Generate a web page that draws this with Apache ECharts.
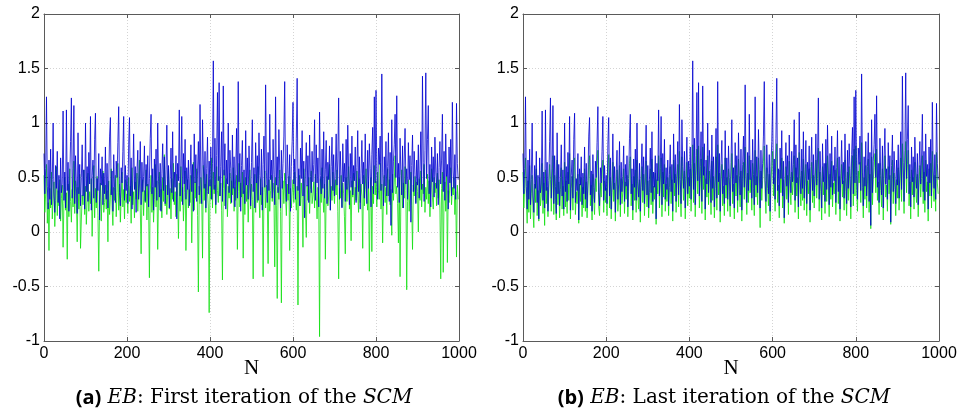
<!DOCTYPE html>
<html>
<head>
<meta charset="utf-8">
<script src="https://cdn.jsdelivr.net/npm/echarts@6/dist/echarts.min.js"></script>
<style>html,body{margin:0;padding:0;background:#fff}#c{width:963px;height:414px}</style>
</head>
<body>
<div id="c"></div>
<script>
// sample step along N (values read every 2 samples)
const STEP = 2;
const xTicks = [0, 200, 400, 600, 800, 1000];
const yTicks = [-1, -0.5, 0, 0.5, 1, 1.5, 2];
const captions = [
  ['(a)', 'EB', ': First iteration of the ', 'SCM'],
  ['(b)', 'EB', ': Last iteration of the ', 'SCM']
];

// blue: EB estimate (same in both panels)
const blueEB = [
0.72,0.35,0.58,1.24,0.42,0.21,0.66,0.30,0.76,0.25,0.48,1.00,0.33,0.18,0.61,0.40,0.74,0.27,0.52,0.12,0.68,0.36,0.45,1.11,0.29,
0.55,0.22,1.12,0.38,0.64,0.19,0.47,0.83,1.23,0.31,0.58,1.16,0.26,0.70,0.42,0.17,0.91,0.35,0.62,0.24,0.50,0.80,0.33,0.57,0.21,
1.00,0.37,0.60,0.28,0.73,0.44,1.06,0.20,0.52,0.66,0.31,0.85,1.09,0.27,0.49,0.38,0.72,0.11,0.58,0.43,0.69,0.25,0.54,0.35,0.78,
0.30,0.63,0.22,0.47,0.88,1.05,0.34,0.56,0.19,0.71,0.41,0.27,0.65,0.50,0.82,1.15,0.36,0.24,0.59,0.45,0.74,1.06,0.29,0.61,0.38,
0.52,0.26,0.80,1.05,0.33,0.68,0.21,0.47,0.90,0.39,0.60,0.18,0.55,0.75,0.30,0.44,0.83,0.25,0.64,0.37,0.51,0.79,0.28,0.62,0.42,
0.70,0.23,0.49,0.86,1.08,0.35,0.58,0.20,0.67,0.41,0.76,0.29,1.00,0.46,0.32,0.63,0.19,0.54,0.81,0.38,0.69,0.26,0.57,0.98,0.34,
0.61,0.22,0.48,0.77,0.36,0.92,0.28,0.55,0.41,0.70,0.12,0.63,0.47,1.12,0.33,0.58,1.06,0.25,0.72,0.44,0.85,0.30,0.59,0.39,0.66,
0.24,0.53,0.80,0.37,0.62,0.19,0.90,0.45,0.71,0.28,0.56,0.83,0.34,1.17,0.48,0.26,1.03,0.60,0.40,0.74,0.22,0.58,0.87,0.35,0.65,
0.42,0.78,0.30,0.63,1.57,0.39,0.86,0.25,0.70,1.28,0.47,1.37,0.33,0.60,0.92,0.28,1.34,0.52,0.81,0.21,0.66,0.44,1.00,0.36,0.75,
0.58,0.27,0.89,0.40,0.69,0.23,0.54,0.95,0.31,1.38,0.46,0.72,0.19,0.61,0.84,0.35,0.57,0.26,0.93,0.43,0.68,0.30,0.79,0.50,0.24,
0.64,1.03,0.37,0.59,0.22,0.82,0.45,0.70,0.29,0.91,0.52,0.34,0.76,0.20,0.62,0.88,0.41,1.35,0.55,0.27,0.73,0.38,1.08,0.48,0.66,
0.31,0.85,0.53,0.25,1.24,0.43,0.69,0.36,0.94,0.57,0.22,0.75,0.40,0.63,0.88,1.38,0.47,0.28,0.80,0.54,0.35,0.71,0.19,0.60,0.83,
1.19,0.44,0.67,0.30,0.86,1.41,0.38,0.58,0.24,0.77,0.49,0.93,0.33,0.65,0.13,0.55,0.82,0.42,0.70,0.27,0.89,0.51,0.36,0.74,0.46,
0.62,1.03,0.29,0.80,0.45,0.68,0.23,1.10,0.52,0.35,0.76,0.40,0.92,0.31,0.57,0.84,0.26,0.64,0.48,0.79,0.20,0.60,0.87,0.38,0.71,
0.33,0.55,0.90,0.43,0.67,1.23,0.30,0.74,0.50,0.22,0.81,0.46,0.63,0.28,0.85,0.39,0.98,0.56,0.25,0.72,0.41,0.88,0.34,0.61,0.47,
0.78,0.27,0.59,0.93,0.37,0.69,0.21,0.54,0.84,0.44,0.64,0.31,0.90,0.50,0.26,0.75,0.40,0.81,0.58,0.23,0.71,0.96,0.35,1.24,0.45,
1.30,0.52,0.30,0.77,0.62,0.88,0.38,1.45,0.55,0.24,0.69,0.42,0.83,0.33,0.60,0.91,0.28,0.73,0.06,1.03,0.36,0.65,0.80,1.08,0.50,
1.25,0.41,0.63,0.27,0.86,0.52,0.34,0.79,0.22,0.67,0.95,0.44,0.58,0.30,0.82,0.48,0.70,0.09,0.61,0.89,0.37,0.74,0.53,0.26,0.66,
0.43,0.80,0.31,0.57,0.92,0.39,1.43,0.64,0.28,0.75,1.46,0.49,0.85,1.16,0.35,0.62,0.23,0.78,0.46,0.69,0.32,0.87,0.55,0.40,0.72,
0.25,0.59,0.83,0.44,0.66,1.08,0.37,0.74,0.29,0.90,0.51,0.62,0.21,0.78,0.45,0.85,0.33,1.19,0.56,0.40,0.71,0.30,1.18,0.63,0.48
];

// green: first iteration of the SCM (panel a)
const greenFirst = [
0.52,0.18,0.35,0.62,0.08,0.27,-0.17,0.40,0.22,0.55,0.12,0.33,0.46,0.05,0.29,0.60,0.15,0.38,0.24,0.48,0.10,0.31,0.43,-0.14,0.26,
0.50,0.20,0.36,-0.25,0.44,0.14,0.58,0.28,0.09,0.39,0.23,0.65,0.17,0.47,0.30,-0.09,0.41,0.21,0.53,-0.15,0.11,0.34,0.25,0.57,0.16,
0.42,0.07,0.30,0.54,0.19,0.37,0.26,0.49,-0.04,0.33,0.61,0.13,0.40,0.22,0.51,0.15,-0.36,0.28,0.45,0.10,0.35,0.56,0.18,0.27,0.43,
0.21,0.38,-0.09,0.47,0.16,0.32,0.58,0.24,0.06,0.41,0.29,0.52,0.14,0.36,0.63,0.20,0.44,0.09,0.31,0.55,0.23,0.39,0.12,0.48,0.27,
0.35,0.17,0.50,0.28,0.42,0.08,0.59,0.25,0.37,0.13,0.46,0.30,0.54,0.19,0.40,0.66,0.22,-0.20,0.33,0.48,0.15,0.38,0.27,0.57,0.11,
0.44,0.26,-0.42,0.36,0.52,0.18,0.41,0.09,0.30,0.62,0.23,0.47,-0.16,0.34,0.55,0.20,0.39,0.13,0.50,0.28,0.71,0.24,0.43,0.16,0.35,
0.58,0.21,0.40,0.12,0.49,0.30,0.63,0.25,0.37,0.14,0.53,0.32,-0.06,0.45,0.19,0.60,0.28,0.41,0.10,0.36,0.56,-0.17,0.33,0.48,0.22,
0.39,0.27,0.52,-0.10,0.35,0.64,0.20,0.46,0.31,0.58,0.15,-0.55,0.42,0.26,0.50,0.34,-0.24,0.61,0.29,0.44,0.18,0.53,0.37,0.23,-0.74,
0.48,0.30,0.68,0.22,0.55,0.35,0.43,0.17,0.60,0.38,0.27,0.51,0.33,0.45,0.20,-0.44,0.40,0.57,0.24,0.36,0.49,0.14,0.42,0.31,0.54,
0.26,0.47,0.34,0.59,0.19,0.41,0.29,0.52,-0.16,0.37,0.63,0.23,0.45,0.32,0.55,-0.24,0.38,0.16,0.50,0.28,0.43,0.09,0.35,0.57,0.21,
0.44,0.30,-0.43,0.39,0.53,0.18,0.46,0.27,0.60,0.34,0.13,0.49,0.25,0.41,-0.41,0.36,0.56,0.22,0.43,0.31,-0.29,0.48,0.19,0.38,0.52,
0.28,0.45,0.35,-0.32,0.50,0.24,-0.61,0.41,0.30,0.57,0.19,-0.65,0.38,0.47,0.26,0.54,0.33,0.15,0.44,0.29,0.51,-0.17,0.40,0.22,0.36,
0.48,0.27,0.55,0.33,0.20,0.42,-0.67,0.37,0.52,0.24,0.45,0.31,-0.14,0.58,0.35,0.21,-0.05,0.43,0.29,0.50,0.17,0.39,0.56,0.26,0.34,
0.46,0.22,0.53,0.36,0.12,0.41,0.30,-0.96,0.49,0.27,0.59,0.35,0.18,0.44,-0.25,0.38,0.51,0.24,0.33,0.62,0.20,0.42,0.29,0.55,0.37,
0.26,0.48,0.34,0.57,0.19,-0.43,0.40,0.31,0.52,0.23,0.45,0.35,0.14,-0.20,0.50,0.28,0.43,0.60,0.21,0.38,-0.08,0.47,0.32,0.54,0.25,
0.41,0.29,0.56,0.36,0.18,0.49,0.27,0.44,0.33,-0.15,0.52,0.24,0.39,0.58,0.30,0.20,0.46,-0.36,0.35,0.50,-0.18,0.42,0.26,0.61,0.34,
0.47,0.23,0.55,0.38,0.30,0.63,0.21,0.44,-0.10,0.36,0.52,0.27,0.41,0.16,0.58,0.33,0.48,0.25,0.39,-0.03,0.53,0.29,0.45,0.70,0.35,
0.42,0.26,-0.10,0.50,-0.41,0.34,0.57,0.22,0.45,0.31,0.60,0.38,-0.53,0.28,0.48,0.19,0.40,0.55,0.24,-0.16,0.43,0.33,0.51,0.27,0.46,
0.37,0.00,0.49,0.29,0.56,0.23,0.44,0.35,0.62,0.18,0.41,0.30,0.53,0.26,0.47,0.14,0.39,0.58,0.32,0.21,0.50,0.36,0.45,0.24,0.54,
0.31,0.48,0.22,-0.43,0.40,0.55,-0.37,0.33,0.46,0.19,0.52,-0.28,0.38,0.27,0.44,0.59,0.25,0.41,0.34,0.50,0.16,0.37,-0.23,0.43,0.30
];

// green: last iteration of the SCM (panel b)
const greenLast = [
0.55,0.22,0.40,0.68,0.30,0.08,0.47,0.18,0.61,0.12,0.35,0.52,0.20,0.04,0.44,0.27,0.58,0.15,0.38,0.10,0.50,0.24,0.33,0.63,0.17,
0.45,0.06,0.57,0.26,0.41,0.14,0.36,0.62,0.48,0.19,0.43,0.70,0.16,0.52,0.30,0.11,0.66,0.25,0.46,0.13,0.39,0.59,0.21,0.42,0.15,
0.64,0.23,0.47,0.17,0.55,0.29,0.72,0.12,0.40,0.51,0.20,0.60,0.68,0.16,0.37,0.26,0.53,0.08,0.44,0.28,0.50,0.14,0.41,0.22,0.58,
0.19,0.46,0.13,0.35,0.62,0.70,0.24,0.43,0.11,0.53,0.30,0.16,0.49,0.37,0.61,0.75,0.23,0.15,0.45,0.32,0.56,0.66,0.18,0.47,0.27,
0.40,0.15,0.59,0.71,0.22,0.50,0.12,0.36,0.64,0.28,0.45,0.10,0.42,0.57,0.19,0.33,0.61,0.14,0.49,0.26,0.38,0.58,0.17,0.46,0.30,
0.52,0.14,0.37,0.63,0.69,0.24,0.44,0.11,0.51,0.29,0.57,0.18,0.66,0.34,0.21,0.48,0.09,0.41,0.60,0.27,0.53,0.15,0.43,0.65,0.23,
0.47,0.13,0.36,0.58,0.25,0.67,0.17,0.42,0.30,0.54,0.07,0.48,0.35,0.70,0.22,0.45,0.68,0.14,0.55,0.32,0.62,0.19,0.44,0.28,0.50,
0.15,0.41,0.60,0.26,0.48,0.10,0.66,0.33,0.53,0.18,0.43,0.62,0.23,0.74,0.36,0.14,0.69,0.46,0.29,0.56,0.12,0.44,0.64,0.24,0.50,
0.31,0.58,0.19,0.47,0.80,0.27,0.63,0.14,0.52,0.76,0.35,0.79,0.22,0.45,0.67,0.17,0.78,0.39,0.60,0.11,0.49,0.32,0.70,0.25,0.56,
0.43,0.16,0.65,0.29,0.51,0.13,0.40,0.69,0.20,0.80,0.34,0.54,0.09,0.46,0.62,0.24,0.42,0.15,0.68,0.31,0.50,0.19,0.58,0.37,0.14,
0.48,0.72,0.26,0.44,0.12,0.61,0.33,0.52,0.18,0.67,0.39,0.23,0.56,0.10,0.46,0.64,0.30,0.78,0.41,0.16,0.54,0.27,0.70,0.36,0.49,
0.20,0.63,0.40,0.15,0.75,0.32,0.51,0.25,0.68,0.43,0.04,0.56,0.29,0.47,0.65,0.79,0.35,0.17,0.59,0.40,0.24,0.53,0.10,0.45,0.61,
0.74,0.33,0.50,0.19,0.64,0.81,0.27,0.43,0.13,0.57,0.36,0.68,0.22,0.48,0.08,0.41,0.60,0.30,0.52,0.16,0.65,0.38,0.25,0.55,0.34,
0.46,0.70,0.18,0.59,0.33,0.50,0.12,0.73,0.39,0.24,0.56,0.29,0.67,0.20,0.42,0.62,0.15,0.47,0.35,0.58,0.09,0.44,0.64,0.27,0.52,
0.22,0.41,0.66,0.31,0.49,0.77,0.19,0.55,0.37,0.11,0.60,0.34,0.46,0.17,0.63,0.28,0.70,0.42,0.14,0.53,0.30,0.65,0.23,0.45,0.35,
0.57,0.16,0.44,0.68,0.26,0.51,0.10,0.40,0.62,0.32,0.47,0.20,0.66,0.37,0.15,0.55,0.29,0.60,0.43,0.12,0.52,0.70,0.24,0.76,0.33,
0.79,0.38,0.19,0.56,0.45,0.64,0.27,0.82,0.41,0.13,0.50,0.30,0.61,0.22,0.44,0.67,0.18,0.53,0.03,0.69,0.25,0.48,0.59,0.72,0.36,
0.76,0.29,0.46,0.16,0.63,0.38,0.23,0.58,0.11,0.49,0.70,0.32,0.43,0.19,0.60,0.35,0.52,0.07,0.45,0.66,0.26,0.54,0.39,0.15,0.48,
0.31,0.59,0.20,0.42,0.68,0.28,0.81,0.47,0.17,0.55,0.83,0.36,0.62,0.75,0.24,0.46,0.12,0.57,0.34,0.50,0.21,0.64,0.40,0.27,0.53,
0.14,0.44,0.61,0.32,0.49,0.70,0.26,0.55,0.18,0.66,0.37,0.46,0.10,0.58,0.33,0.63,0.22,0.74,0.41,0.28,0.52,0.19,0.73,0.45,0.35
];

const toPairs = arr => arr.map((v, i) => [i * STEP, v]);

const chart = echarts.init(document.getElementById('c'), null, {renderer: 'canvas'});

const grids = [
  {left: 44, right: 504, top: 14, bottom: 73},
  {left: 523, right: 24, top: 14, bottom: 73}
];
const frame = '#5a5a5a';
const labelFont = 'Liberation Sans, Arial, sans-serif';
const xAxes = [], yAxes = [];
grids.forEach((g, gi) => {
  xAxes.push({
    gridIndex: gi, type: 'value', min: xTicks[0], max: xTicks[xTicks.length - 1], interval: 200,
    position: 'bottom',
    axisLine: {show: true, onZero: false, lineStyle: {color: frame, width: 1}},
    axisTick: {show: true, inside: true, length: 4, lineStyle: {color: frame}},
    axisLabel: {color: '#000', fontSize: 16, fontFamily: labelFont, margin: 5, formatter: v => String(v)},
    splitLine: {show: true, lineStyle: {color: '#d4d4d4', type: [1, 2], width: 1}},
    name: 'N', nameLocation: 'middle', nameGap: 17, nameMoveOverlap: false,
    nameTextStyle: {fontFamily: 'Liberation Serif, serif', fontSize: 21, color: '#000'}
  });
  xAxes.push({
    gridIndex: gi, type: 'value', min: xTicks[0], max: xTicks[xTicks.length - 1], interval: 200,
    position: 'top',
    axisLine: {show: true, onZero: false, lineStyle: {color: frame, width: 1}},
    axisTick: {show: true, inside: true, length: 4, lineStyle: {color: frame}},
    axisLabel: {show: false}, splitLine: {show: false}
  });
  yAxes.push({
    gridIndex: gi, type: 'value', min: yTicks[0], max: yTicks[yTicks.length - 1], interval: 0.5,
    position: 'left',
    axisLine: {show: true, onZero: false, lineStyle: {color: frame, width: 1}},
    axisTick: {show: true, inside: true, length: 4, lineStyle: {color: frame}},
    axisLabel: {color: '#000', fontSize: 16, fontFamily: labelFont, margin: 4},
    splitLine: {show: true, lineStyle: {color: '#d4d4d4', type: [1, 2], width: 1}}
  });
  yAxes.push({
    gridIndex: gi, type: 'value', min: yTicks[0], max: yTicks[yTicks.length - 1], interval: 0.5,
    position: 'right',
    axisLine: {show: true, onZero: false, lineStyle: {color: frame, width: 1}},
    axisTick: {show: true, inside: true, length: 4, lineStyle: {color: frame}},
    axisLabel: {show: false}, splitLine: {show: false}
  });
});

const lineSeries = (data, xi, yi, color, z) => ({
  type: 'line', xAxisIndex: xi, yAxisIndex: yi, data: toPairs(data),
  showSymbol: false, symbol: 'none', smooth: false, z: z,
  lineStyle: {color: color, width: 0.8}, silent: true
});

const captionText = c => '{b|' + c[0] + '}{r| }{i|' + c[1] + '}{r|' + c[2] + '}{i|' + c[3] + '}';
const rich = {
  b: {fontFamily: 'Open Sans, Noto Sans, sans-serif', fontWeight: 'bold', fontSize: 20, fill: '#000'},
  i: {fontFamily: 'DejaVu Serif, serif', fontStyle: 'italic', fontSize: 20, fill: '#000'},
  r: {fontFamily: 'DejaVu Serif, serif', fontSize: 20, fill: '#000'}
};

chart.setOption({
  animation: false,
  backgroundColor: '#fff',
  grid: grids,
  xAxis: xAxes,
  yAxis: yAxes,
  series: [
    lineSeries(greenFirst, 0, 0, '#10e010', 2),
    lineSeries(blueEB, 0, 0, '#0000d0', 3),
    lineSeries(greenLast, 2, 2, '#10e010', 2),
    lineSeries(blueEB, 2, 2, '#0000d0', 3)
  ],
  graphic: [
    {type: 'text', x: 244, y: 398, style: {text: captionText(captions[0]), rich: rich, align: 'center', verticalAlign: 'middle'}},
    {type: 'text', x: 724, y: 398, style: {text: captionText(captions[1]), rich: rich, align: 'center', verticalAlign: 'middle'}}
  ]
});
</script>
</body>
</html>
